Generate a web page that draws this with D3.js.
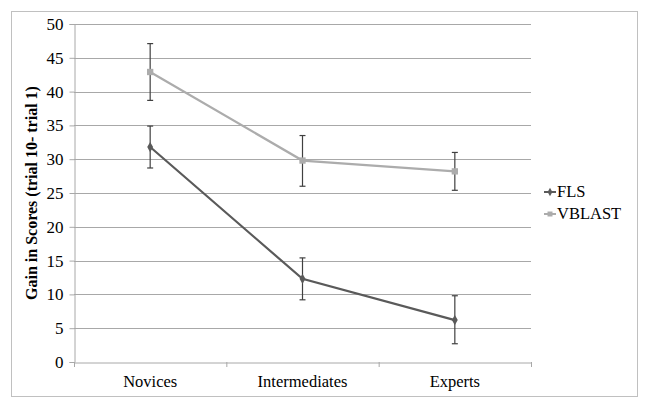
<!DOCTYPE html>
<html lang="en">
<head>
<meta charset="utf-8">
<script src="https://d3js.org/d3.v7.min.js"></script>
<style>
  body { margin: 0; background: #fff; }
</style>
</head>
<body>
<svg id="chart" width="649" height="409"></svg>
<script>
// data
const categories = ["Novices", "Intermediates", "Experts"];
const flsMean = [31.8, 12.3, 6.2];
const flsLow = [28.7, 9.2, 2.7];
const flsHigh = [34.9, 15.4, 9.8];
const vbMean = [42.9, 29.8, 28.2];
const vbLow = [38.7, 26.0, 25.4];
const vbHigh = [47.1, 33.5, 31.0];
const yTicks = [0, 5, 10, 15, 20, 25, 30, 35, 40, 45, 50];

const series = [
  { name: "FLS", color: "#5a5a5a", shape: "diamond", mean: flsMean, lo: flsLow, hi: flsHigh },
  { name: "VBLAST", color: "#acacac", shape: "square", mean: vbMean, lo: vbLow, hi: vbHigh }
];

const serif = "'Liberation Serif', 'Times New Roman', serif";
const svg = d3.select("#chart").style("font-family", serif);
const plotLeft = 74, plotRight = 531, plotTop = 24, plotBottom = 362;

// outer frame
svg.append("rect")
  .attr("x", 11.5).attr("y", 11.5)
  .attr("width", 626).attr("height", 385)
  .attr("fill", "none").attr("stroke", "#c0c0c0");

const x = d3.scaleBand().domain(categories).range([plotLeft, plotRight]);
const y = d3.scaleLinear().domain([0, 50]).range([plotBottom, plotTop]);

// gridlines
svg.append("g").selectAll("line")
  .data(yTicks.filter(d => d > 0))
  .join("line")
  .attr("x1", plotLeft).attr("x2", plotRight)
  .attr("y1", d => Math.round(y(d)) + 0.5).attr("y2", d => Math.round(y(d)) + 0.5)
  .attr("stroke", "#a8a8a8");

// y axis
const yAxis = svg.append("g")
  .attr("transform", `translate(${plotLeft + 0.5},0)`)
  .call(d3.axisLeft(y).tickValues(yTicks).tickSize(5).tickPadding(6));
yAxis.attr("font-family", serif).attr("font-size", 17);
yAxis.select(".domain").attr("stroke", "#a8a8a8");
yAxis.selectAll(".tick line").attr("stroke", "#a8a8a8");
yAxis.selectAll(".tick text").attr("fill", "#000");

// x axis
const xAxis = svg.append("g")
  .attr("transform", `translate(0,${plotBottom + 0.5})`)
  .call(d3.axisBottom(x).tickSize(0).tickPadding(13));
xAxis.attr("font-family", serif).attr("font-size", 16.5);
xAxis.select(".domain").attr("stroke", "#a8a8a8");
xAxis.selectAll(".tick text").attr("fill", "#000");
// category boundary ticks
svg.append("g").selectAll("line")
  .data(categories.concat(["end"]))
  .join("line")
  .attr("x1", (d, i) => (i < categories.length ? x(d) : plotRight) + 0.5)
  .attr("x2", (d, i) => (i < categories.length ? x(d) : plotRight) + 0.5)
  .attr("y1", plotBottom).attr("y2", plotBottom + 5)
  .attr("stroke", "#a8a8a8");

// y title
svg.append("text")
  .attr("transform", `translate(37,${193}) rotate(-90)`)
  .attr("text-anchor", "middle")
  .attr("font-family", serif)
  .attr("font-size", 16).attr("font-weight", "bold")
  .text("Gain in Scores (trial 10- trial 1)");

const cx = d => x(d) + x.bandwidth() / 2;

series.forEach(s => {
  const g = svg.append("g");
  g.append("path")
    .datum(categories)
    .attr("fill", "none")
    .attr("stroke", s.color)
    .attr("stroke-width", 2.2)
    .attr("d", d3.line().x(cx).y((d, i) => y(s.mean[i])));

  // error bars
  categories.forEach((c, i) => {
    const xc = cx(c);
    g.append("line").attr("x1", xc).attr("x2", xc)
      .attr("y1", y(s.lo[i])).attr("y2", y(s.hi[i]))
      .attr("stroke", "#404040").attr("stroke-width", 1.2);
    [s.lo[i], s.hi[i]].forEach(v => {
      g.append("line").attr("x1", xc - 3).attr("x2", xc + 3)
        .attr("y1", y(v)).attr("y2", y(v))
        .attr("stroke", "#404040").attr("stroke-width", 1.2);
    });
  });

  g.selectAll("path.mk")
    .data(categories)
    .join("path")
    .attr("class", "mk")
    .attr("transform", (d, i) => `translate(${cx(d)},${y(s.mean[i])})`)
    .attr("fill", s.color)
    .attr("d", d3.symbol().type(s.shape === "square" ? d3.symbolSquare : d3.symbolDiamond).size(s.shape === "square" ? 40 : 30));
});

// legend
const legend = svg.append("g");
series.forEach((s, i) => {
  const ly = 192 + i * 22;
  legend.append("line").attr("x1", 544).attr("x2", 556)
    .attr("y1", ly).attr("y2", ly)
    .attr("stroke", s.color).attr("stroke-width", 2);
  legend.append("path")
    .attr("transform", `translate(550,${ly})`)
    .attr("fill", s.color)
    .attr("d", d3.symbol().type(s.shape === "square" ? d3.symbolSquare : d3.symbolDiamond).size(s.shape === "square" ? 25 : 20));
  legend.append("text")
    .attr("x", 557).attr("y", ly + 5)
    .attr("font-family", serif)
    .attr("font-size", 16.5)
    .text(s.name);
});
</script>
</body>
</html>
